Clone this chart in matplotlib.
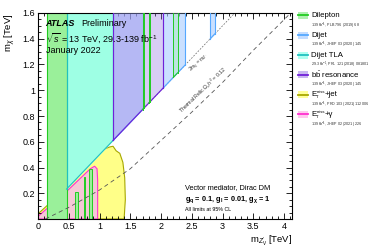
import numpy as np
import matplotlib
matplotlib.use('Agg')
import matplotlib.pyplot as plt
from matplotlib.patches import Rectangle
from matplotlib.lines import Line2D
from matplotlib.ticker import MultipleLocator

plt.rcParams['font.family'] = ['Liberation Sans', 'DejaVu Sans']
plt.rcParams['mathtext.fontset'] = 'custom'
plt.rcParams['mathtext.rm'] = 'Liberation Sans'
plt.rcParams['mathtext.it'] = 'Liberation Sans:italic'
plt.rcParams['mathtext.bf'] = 'Liberation Sans:bold'

X_MAX = 4.13
Y_MAX = 1.6

# kinematic line 2 m_chi = m_Z'
kin_x = [0.0, 3.2]
kin_y = [0.0, 1.6]

# thermal relic curve
relic_x = [0.12, 0.5, 1.0, 1.5, 2.0, 2.5, 3.0, 3.5, 4.13]
relic_y = [0.0, 0.09, 0.225, 0.39, 0.61, 0.83, 1.06, 1.31, 1.61]

# visible searches: x-ranges excluded from the diagonal (m_chi = m_Z'/2) up to top
dilepton_bands = [(1.70, 1.72), (1.80, 1.82), (2.20, 2.27)]
dilepton_main = (0.15, 0.465)          # extends to low m_chi
dilepton_low = [(0.60, 0.65, 0.21), (0.74, 0.77, 0.33), (0.83, 0.88, 0.39)]
tla_bands = [(0.465, 1.22)]
dijet_bands = [(1.22, 1.71), (2.03, 2.39), (2.80, 2.88)]
bb_bands = [(1.22, 2.03)]

# invisible searches (contours)
metjet_x = [0.0, 0.0, 0.6, 1.0, 1.17, 1.22, 1.27, 1.33, 1.38, 1.41, 1.42, 1.40]
metjet_y = [0.0, 0.04, 0.30, 0.53, 0.56, 0.565, 0.53, 0.51, 0.44, 0.32, 0.15, 0.0]
metgam_x = [0.0, 0.0, 0.5, 0.85, 0.92, 0.96, 0.97, 0.97]
metgam_y = [0.0, 0.02, 0.23, 0.39, 0.41, 0.39, 0.30, 0.0]

leg_labels = ['Dilepton', 'Dijet', 'Dijet TLA', r'b$\bar{\rm b}$ resonance',
              '+jet', '+\u03b3']
leg_refs = [r'139 fb$^{-1}$, PLB 796 (2019) 68', r'139 fb$^{-1}$, JHEP 03 (2020) 145',
            r'29.3 fb$^{-1}$, PRL 121 (2018) 081801', r'139 fb$^{-1}$, JHEP 03 (2020) 145',
            r'139 fb$^{-1}$, PRD 103 (2021) 112006', r'139 fb$^{-1}$, JHEP 02 (2021) 226']

C = {
    'dilep': ('#9af09a', '#22cc22'),
    'dijet': ('#a8ccff', '#55a8ff'),
    'tla': ('#9effe4', '#22c0c0'),
    'bb': ('#9070e0', '#7020d8'),
    'metjet': ('#ffff88', '#a8a800'),
    'metgam': ('#f5c8d6', '#ff30d0'),
}
LEG_FC = {'dilep': '#b0f0b0', 'dijet': '#c4dcff', 'tla': '#b0fff0',
          'bb': '#c8b8f0', 'metjet': '#ffff99', 'metgam': '#ffc8ee'}

fig = plt.figure(figsize=(3.9, 2.49), dpi=100)
ax = fig.add_axes([38/390, 30/249, 254/390, 206/249])
ax.set_xlim(0, X_MAX)
ax.set_ylim(0, Y_MAX)

def band(x0, x1, key, alpha=1.0, z=2, lw=0.8):
    xs = np.linspace(x0, x1, 20)
    yb = np.array(xs) / 2.0
    fc, ec = C[key]
    ax.fill_between(xs, yb, Y_MAX, color=fc, alpha=alpha, lw=0, zorder=z)
    ax.plot([x0, x0], [x0/2, Y_MAX], color=ec, lw=lw, zorder=z+0.5)
    ax.plot([x1, x1], [x1/2, Y_MAX], color=ec, lw=lw, zorder=z+0.5)
    ax.plot([x0, x1], [x0/2, x1/2], color=ec, lw=lw, zorder=z+0.5)

# invisible searches
ax.fill(metjet_x, metjet_y, facecolor=C['metjet'][0], edgecolor=C['metjet'][1], lw=0.8, zorder=1)
ax.fill(metgam_x, metgam_y, facecolor=C['metgam'][0], edgecolor=C['metgam'][1], lw=0.8, zorder=1.2)

# dilepton main band down to bottom
x0, x1 = dilepton_main
ax.fill_between([x0, x1], 0.0, Y_MAX, color=C['dilep'][0], lw=0, zorder=2)
ax.plot([x0, x0], [0, Y_MAX], color=C['dilep'][1], lw=0.8, zorder=2.5)
ax.plot([x1, x1], [0, Y_MAX], color=C['dilep'][1], lw=0.8, zorder=2.5)
for (a, b, t) in dilepton_low:
    ax.fill([a, a, b, b], [0, t, t, 0], facecolor=C['dilep'][0], edgecolor=C['dilep'][1], lw=0.7, zorder=2)

for (a, b) in tla_bands:
    band(a, b, 'tla', z=2)
for (a, b) in dijet_bands:
    band(a, b, 'dijet', alpha=0.6, z=3)
for (a, b) in bb_bands:
    band(a, b, 'bb', alpha=0.35, z=3.2)
for (a, b) in dilepton_bands:
    band(a, b, 'dilep', alpha=0.3, z=3.4, lw=0.7)

# lines
ax.plot(kin_x, kin_y, color='#666666', lw=0.5, ls=(0, (2.5, 2)), zorder=0.5)
ax.plot(relic_x, relic_y, color='#555555', lw=0.6, ls=(0, (5, 4)), zorder=5)
ax.text(2.62, 1.21, r'2m$_\chi$ = m$_{Z^\prime}$', fontsize=3.6, rotation=42,
        ha='center', va='center', color='#333333', zorder=6)
ax.text(2.68, 1.0, r'Thermal Relic $\Omega_c h^2$ = 0.12', fontsize=3.8, rotation=44,
        ha='center', va='center', color='#333333', zorder=6)

# axes style
ax.xaxis.set_major_locator(MultipleLocator(0.5))
ax.xaxis.set_minor_locator(MultipleLocator(0.1))
ax.yaxis.set_major_locator(MultipleLocator(0.2))
ax.yaxis.set_minor_locator(MultipleLocator(0.05))
ax.tick_params(which='both', direction='in', top=True, right=True, labelsize=6.5, width=0.6)
ax.tick_params(which='major', length=4.5)
ax.tick_params(which='minor', length=2.3)
for s in ax.spines.values():
    s.set_linewidth(0.8)
ax.set_xticks([0, 0.5, 1, 1.5, 2, 2.5, 3, 3.5, 4])
ax.set_xticklabels(['0', '0.5', '1', '1.5', '2', '2.5', '3', '3.5', '4'])
ax.set_yticks([0.2, 0.4, 0.6, 0.8, 1.0, 1.2, 1.4, 1.6])
ax.set_yticklabels(['0.2', '0.4', '0.6', '0.8', '1', '1.2', '1.4', '1.6'])
ax.tick_params(axis='x', pad=2)
ax.tick_params(axis='y', pad=2)
ax.set_xlabel(r"m$_{Z^\prime_{\rm V}}$ [TeV]", fontsize=6.8, ha='right', x=1.0, labelpad=2)
ax.set_ylabel(r"m$_\chi$ [TeV]", fontsize=6.8, ha='right', y=1.0, labelpad=3)

# ATLAS labels
ax.text(0.03, 0.947, 'ATLAS', transform=ax.transAxes, fontsize=6.5, fontweight='bold',
        fontstyle='italic', va='center', zorder=7)
ax.text(0.172, 0.947, 'Preliminary', transform=ax.transAxes, fontsize=6.5, va='center', zorder=7)
ax.text(0.03, 0.879, r'$\sqrt{s}$ = 13 TeV, 29.3-139 fb$^{-1}$', transform=ax.transAxes,
        fontsize=6.5, va='center', zorder=7)
ax.text(0.03, 0.82, 'January 2022', transform=ax.transAxes, fontsize=6.5, va='center', zorder=7)

ax.text(0.578, 0.155, 'Vector mediator, Dirac DM', transform=ax.transAxes, fontsize=5.3, va='center', zorder=7)
ax.text(0.578, 0.095, r'$\mathbf{g_q}$ = 0.1, $\mathbf{g_l}$ = 0.01, $\mathbf{g_\chi}$ = 1',
        transform=ax.transAxes, fontsize=5.3, fontweight='bold', va='center', zorder=7)
ax.text(0.578, 0.045, 'All limits at 95% CL', transform=ax.transAxes, fontsize=3.8, va='center', zorder=7)

# legend (manual)
keys = ['dilep', 'dijet', 'tla', 'bb', 'metjet', 'metgam']
for i, (lab, ref, k) in enumerate(zip(leg_labels, leg_refs, keys)):
    yc = 1 - (15.5 + 19.8 * i) / 249
    ec = C[k][1]
    r = Rectangle((298/390, yc - 3.5/249), 10/390, 7/249, transform=fig.transFigure,
                  facecolor=LEG_FC[k], edgecolor='none')
    fig.add_artist(r)
    fig.add_artist(Line2D([298/390, 308/390], [yc, yc], transform=fig.transFigure, color=ec, lw=1.3))
    if k.startswith('met'):
        # E_T^miss built from plain pieces
        fig.text(311/390, yc, 'E', fontsize=5.6, va='center')
        fig.text(316.3/390, yc + 2.6/249, 'miss', fontsize=3.1, va='center')
        fig.text(316.3/390, yc - 2.4/249, 'T', fontsize=3.1, va='center')
        fig.text(324.5/390, yc, lab, fontsize=5.6, va='center')
    else:
        fig.text(311/390, yc, lab, fontsize=5.6, va='center')
    fig.text(311/390, yc - 10/249, ref, fontsize=2.7, va='center', color='#333333')

fig.savefig('out.png', dpi=100)
